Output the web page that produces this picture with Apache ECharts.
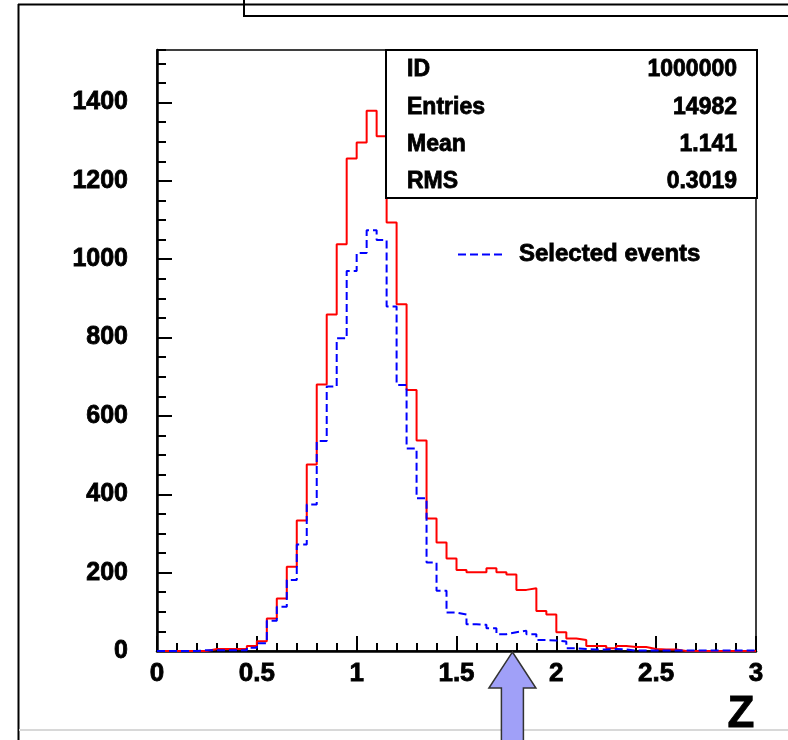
<!DOCTYPE html>
<html><head><meta charset="utf-8">
<script src="https://cdn.jsdelivr.net/npm/echarts@6/dist/echarts.min.js"></script>
<style>html,body{margin:0;padding:0;background:#fff}#c{width:788px;height:740px}</style>
</head><body><div id="c"></div><script>
// ---- data ----
const binWidth = 0.05;
const xMin = 0, xMax = 3;
const yMax = 1534;
const allEvents = [
  0, 0, 0, 0, 0, 5, 5, 5, 5, 13,
  25, 83, 134, 215, 333, 476, 680, 859, 1038, 1257,
  1298, 1379, 1314, 1094, 885, 666, 537, 338, 277, 236,
  207, 201, 201, 211, 201, 195, 156, 160, 102, 93,
  48, 32, 28, 13, 13, 7, 13, 10, 10, 5,
  4, 4, 0, 0, 0, 0, 0, 0, 0, 0
];
const selectedEvents = [
  0, 0, 0, 0, 2, 2, 2, 2, 2, 8,
  20, 77, 113, 181, 272, 374, 536, 675, 798, 970,
  1016, 1074, 1049, 879, 679, 517, 390, 226, 154, 98,
  93, 68, 67, 58, 43, 48, 52, 43, 28, 27,
  24, 7, 5, 4, 4, 5, 4, 1, 1, 1,
  1, 1, 1, 1, 1, 1, 1, 1, 1, 1
];
const statsLabels = ['ID', 'Entries', 'Mean', 'RMS'];
const statsValues = ['1000000', '14982', '1.141', '0.3019'];
const legendLabel = 'Selected events';
const axisTitle = 'Z';
const cutValue = 1.78;

// ---- build ----
const FONT = "'Liberation Sans', Arial, sans-serif";
const heavy = {textBorderColor: '#000', textBorderWidth: 0.8};
function steps(vals) {
  const pts = vals.map((v, i) => [+(xMin + i * binWidth).toFixed(4), v]);
  pts.push([xMax, vals[vals.length - 1]]);
  return pts;
}
const chart = echarts.init(document.getElementById('c'), null, {renderer: 'canvas'});

const statsGraphics = [{
  type: 'rect', id: 'statsBox', z: 100,
  shape: {x: 386, y: 50, width: 371, height: 148},
  style: {fill: '#fff', stroke: '#000', lineWidth: 2}
}];
const rowY = [70, 107.5, 145, 181.5];
statsLabels.forEach((l, i) => {
  statsGraphics.push({type: 'text', id: 'sl' + i, z: 101, x: 407, y: rowY[i],
    style: {text: l, font: 'bold 23px ' + FONT, fill: '#000', stroke: '#000', lineWidth: 0.8, textAlign: 'left', textVerticalAlign: 'middle'}});
  statsGraphics.push({type: 'text', id: 'sv' + i, z: 101, x: 737, y: rowY[i],
    style: {text: statsValues[i], font: 'bold 23px ' + FONT, fill: '#000', stroke: '#000', lineWidth: 0.8, textAlign: 'right', textVerticalAlign: 'middle'}});
});

const frameGraphics = [
  {type: 'line', id: 'outTop', z: 50, shape: {x1: 18, y1: 4.5, x2: 800, y2: 4.5}, style: {stroke: '#000', lineWidth: 2}},
  {type: 'line', id: 'outLeft', z: 50, shape: {x1: 18.5, y1: 4, x2: 18.5, y2: 740}, style: {stroke: '#000', lineWidth: 2}},
  {type: 'rect', id: 'titleBox', z: 50, shape: {x: 244, y: -5, width: 600, height: 21}, style: {fill: 'none', stroke: '#000', lineWidth: 2}},
  {type: 'line', id: 'outBottom', z: 50, shape: {x1: 19, y1: 730, x2: 800, y2: 730}, style: {stroke: '#d8d8d8', lineWidth: 2}}
];

chart.setOption({
  animation: false,
  backgroundColor: '#fff',
  grid: {left: 157, right: 32, top: 50, bottom: 89, show: true, borderColor: '#000', borderWidth: 1.5},
  legend: {
    data: [legendLabel], left: 452, top: 237, itemWidth: 44, itemHeight: 14, itemGap: 10,
    itemStyle: {opacity: 0},
    textStyle: Object.assign({fontSize: 24, fontWeight: 'bold', color: '#000', fontFamily: FONT, padding: [0, 0, 0, 12]}, heavy)
  },
  xAxis: {
    type: 'value', min: xMin, max: xMax, interval: 0.5,
    name: axisTitle, nameLocation: 'end', nameGap: -15,
    nameTextStyle: Object.assign({fontSize: 44, fontWeight: 'bold', color: '#000', fontFamily: FONT, align: 'center', verticalAlign: 'top', padding: [42, 0, 0, 0]}, heavy),
    axisLine: {lineStyle: {color: '#000', width: 2.5}},
    axisTick: {inside: true, length: 15, lineStyle: {color: '#000', width: 2}},
    minorTick: {show: true, splitNumber: 5, length: 8, lineStyle: {color: '#000', width: 2}},
    axisLabel: Object.assign({margin: 10, fontSize: 26, fontWeight: 'bold', color: '#000', fontFamily: FONT}, heavy),
    splitLine: {show: false}, minorSplitLine: {show: false}
  },
  yAxis: [{
    type: 'value', min: 0, max: yMax, interval: 200, position: 'left',
    axisLine: {show: true, lineStyle: {color: '#000', width: 2.5}},
    axisTick: {inside: true, length: 15, lineStyle: {color: '#000', width: 2}},
    axisLabel: Object.assign({margin: 29, fontSize: 25, fontWeight: 'bold', color: '#000', fontFamily: FONT,
      showMaxLabel: false, formatter: v => (v % 200 === 0 ? String(v) : '')}, heavy),
    splitLine: {show: false}
  }, {
    type: 'value', min: 0, max: yMax, interval: 50, position: 'left', offset: 0,
    axisLine: {show: false},
    axisTick: {show: true, inside: true, length: 9, lineStyle: {color: '#000', width: 2}},
    axisLabel: {show: false}, splitLine: {show: false}
  }],
  series: [{
    name: 'All events', type: 'line', step: 'end', symbol: 'none', yAxisIndex: 0, z: 3,
    lineStyle: {color: '#ff0000', width: 2}, itemStyle: {color: '#ff0000'},
    data: steps(allEvents)
  }, {
    name: legendLabel, type: 'line', step: 'end', symbol: 'none', yAxisIndex: 0, z: 4,
    lineStyle: {color: '#0000ff', width: 2, type: [8, 4]}, itemStyle: {color: '#0000ff'},
    data: steps(selectedEvents)
  }],
  graphic: frameGraphics.concat(statsGraphics)
});

// cut arrow, placed through the axis scale
const tip = chart.convertToPixel({xAxisIndex: 0, yAxisIndex: 0}, [cutValue, 0]);
const tx = tip[0], ty = tip[1] + 1;
chart.setOption({graphic: [{
  type: 'polygon', id: 'arrow', z: 60,
  shape: {points: [[tx, ty], [tx + 23.5, ty + 36], [tx + 11, ty + 36], [tx + 11, 745], [tx - 11, 745], [tx - 11, ty + 36], [tx - 23.5, ty + 36]]},
  style: {fill: '#a0a0f8', stroke: '#333', lineWidth: 1.5}
}]});
</script></body></html>
